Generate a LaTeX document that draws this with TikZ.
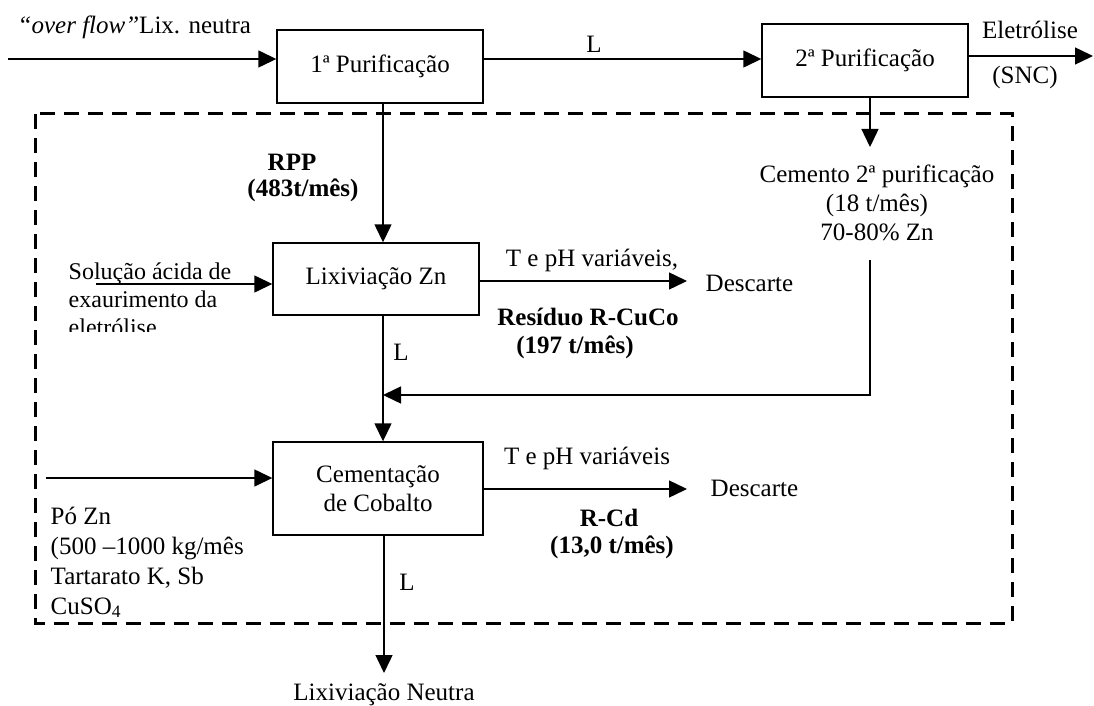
\documentclass[tikz,border=0pt]{standalone}
\usepackage{fontspec}
\setmainfont{Liberation Serif}
\usetikzlibrary{arrows.meta}
\begin{document}
\fontsize{25}{29}\selectfont
\begin{tikzpicture}[x=1pt,y=-1pt,
  line width=1.4pt,
  arr/.style={-{Triangle[length=18pt,width=17pt]}},
  stagebox/.style={draw,rectangle,inner sep=0pt,align=center},
  lbl/.style={inner sep=0pt,align=center},
  lbll/.style={inner sep=0pt,anchor=base west},
  smalltext/.style={font=\fontsize{24}{28}\selectfont},
  boundary/.style={line width=3pt,dash pattern=on 15pt off 9pt}
]
\useasboundingbox (0,0) rectangle (1094,706);

% process stages
\node[stagebox,minimum width=206pt,minimum height=73pt] (p1) at (380,66.5) {1ª Purificação};
\node[stagebox,minimum width=206pt,minimum height=73pt] (p2) at (865,60.5) {2ª Purificação};
\node[stagebox,minimum width=206pt,minimum height=72pt] (lix) at (376,279) {Lixiviação Zn};
\node[stagebox,minimum width=210pt,minimum height=93pt] (cem) at (378,488.5) {Cementação\\de Cobalto};

% boundary of the cobalt circuit
\draw[boundary] (35,114) rectangle (1012,623);

% feed and main line
\coordinate (feed) at (8,59);
\coordinate (vx) at (383,0);
\coordinate (cx) at (870,0);
\node[lbll] (ovf) at (17,34) {\textit{“over flow”}Lix. neutra};
\draw[arr] (feed) -- (feed -| p1.west);
\draw[arr] (p1.east |- feed) -- (p2.west |- feed);
\node[lbl] (lL1) at (594,44) {L};
\coordinate (elout) at (1093,56);
\draw[arr] (elout -| p2.east) -- (elout);
\node[lbl] (elet) at (1030,30) {Eletrólise};
\node[lbl] (snc) at (1025,77) {(SNC)};

% residue from the first purification
\draw[arr] (p1.south -| vx) -- (lix.north -| vx);
\node[lbl,font=\bfseries] (rpp) at (292,162) {RPP};
\node[lbl,font=\bfseries] (rppq) at (303,190) {(483t/mês)};

% cement of the second purification
\node[lbl] (cem2) at (877,203) {Cemento 2ª purificação\\(18 t/mês)\\70-80\% Zn};
\coordinate (ctip) at (870,147);
\draw[arr] (p2.south -| cx) -- (ctip);
\coordinate (cstart) at (870,260);
\coordinate (cret) at (870,395);
\draw[arr] (cstart) -- (cret) -- (cret -| vx);

% zinc leaching
\coordinate (solin) at (96,284);
\draw[arr] (solin) -- (solin -| lix.west);
\node[lbll,smalltext] (sol1) at (68,279) {Solução ácida de};
\node[lbll,smalltext] (sol2) at (68,307) {exaurimento da};
\begin{scope}
  \clip (40,312) rectangle (272,331);
  \node[lbll,smalltext] (sol3) at (68,335) {eletrólise};
\end{scope}
\coordinate (d1tip) at (687,281);
\draw[arr] (lix.east |- d1tip) -- (d1tip);
\node[lbl] (tph1) at (592,260) {T e pH variáveis,};
\node[lbll,anchor=west] (desc1) at (705,283) {Descarte};
\node[lbl,font=\bfseries] (rcuco) at (588,317) {Resíduo R-CuCo};
\node[lbl,font=\bfseries] (rcucoq) at (575,347) {(197 t/mês)};
\draw[arr] (lix.south -| vx) -- (cem.north -| vx);
\node[lbl] (lL2) at (401,352) {L};

% cobalt cementation
\coordinate (znin) at (46,478);
\draw[arr] (znin) -- (znin -| cem.west);
\node[lbll] (pozn1) at (50,524) {Pó Zn};
\node[lbll] (pozn2) at (50,554) {(500 –1000 kg/mês};
\node[lbll] (pozn3) at (50,584) {Tartarato K, Sb};
\node[lbll] (pozn4) at (50,614) {CuSO\textsubscript{4}};
\coordinate (d2tip) at (687,489);
\draw[arr] (cem.east |- d2tip) -- (d2tip);
\node[lbl] (tph2) at (587,458) {T e pH variáveis};
\node[lbll,anchor=west] (desc2) at (710,488) {Descarte};
\node[lbl,font=\bfseries] (rcd) at (609,518) {R-Cd};
\node[lbl,font=\bfseries] (rcdq) at (612,547) {(13,0 t/mês)};

% solution to neutral leaching
\coordinate (ntip) at (384,673);
\draw[arr] (cem.south -| ntip) -- (ntip);
\node[lbl] (lL3) at (407,582) {L};
\node[lbl] (neutra) at (384,695) {Lixiviação Neutra};
\end{tikzpicture}
\end{document}
